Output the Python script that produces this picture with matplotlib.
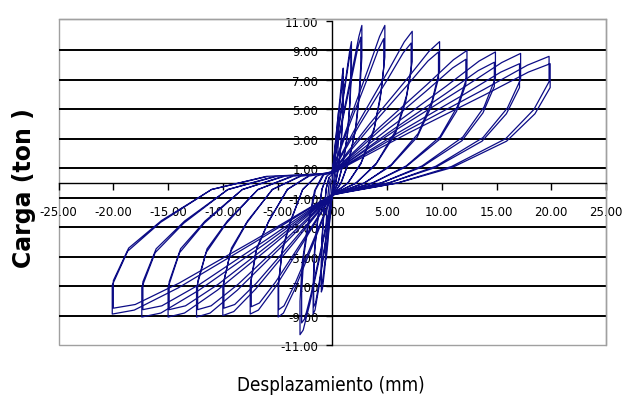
import matplotlib
matplotlib.use("Agg")
import matplotlib.pyplot as plt
from matplotlib import font_manager as fm
from matplotlib.patches import Rectangle

# ---------------- data ----------------
# Displacement (mm) / load (ton) traces, one pair per displacement level
disp_1 = [0, 0.105, 0.21, 0.27, 0.3, 0.3, 0.28, 0.24, 0.165, 0.09,
          0, -0.105, -0.21, -0.27, -0.3, -0.3, -0.28, -0.234, -0.165, -0.09]
load_1 = [0.21, 1.09, 1.92, 2.42, 2.6, 2.08, 1.51, 0.91, 0.34, 0,
          -0.23, -1.17, -2.08, -2.52, -2.6, -2.03, -1.35, -0.78, -0.13, 0.13]

disp_2 = [0, 0.21, 0.42, 0.54, 0.6, 0.6, 0.56, 0.48, 0.33, 0.18,
          0, -0.21, -0.42, -0.54, -0.6, -0.6, -0.56, -0.47, -0.33, -0.18]
load_2 = [0.4, 2.1, 3.7, 4.65, 5.0, 4.0, 2.9, 1.75, 0.65, 0,
          -0.47, -2.34, -4.16, -5.04, -5.2, -4.06, -2.7, -1.56, -0.26, 0.26]

disp_3 = [0, 0.35, 0.7, 0.9, 1.0, 1.0, 0.93, 0.8, 0.55, 0.3,
          0, -0.35, -0.7, -0.9, -1.0, -1.0, -0.93, -0.78, -0.55, -0.3,
          0, 0.35, 0.7, 0.9, 1.0, 1.0, 0.93, 0.8, 0.55, 0.3,
          0, -0.35, -0.7, -0.9, -1.0, -1.0, -0.93, -0.78, -0.55, -0.3]
load_3 = [0.62, 3.28, 5.77, 7.25, 7.8, 6.24, 4.52, 2.73, 1.01, 0,
          -0.67, -3.33, -5.92, -7.18, -7.4, -5.77, -3.85, -2.22, -0.37, 0.37,
          0.58, 3.02, 5.33, 6.7, 7.2, 5.76, 4.18, 2.52, 0.94, 0,
          -0.62, -3.11, -5.52, -6.69, -6.9, -5.38, -3.59, -2.07, -0.35, 0.35]

disp_4 = [0, 0.61, 1.23, 1.58, 1.75, 1.75, 1.63, 1.4, 0.96, 0.53,
          0, -0.61, -1.23, -1.58, -1.75, -1.75, -1.63, -1.37, -0.96, -0.53,
          0, 0.6, 1.19, 1.53, 1.7, 1.7, 1.58, 1.36, 0.94, 0.51,
          0, -0.6, -1.19, -1.53, -1.7, -1.7, -1.58, -1.33, -0.94, -0.51]
load_4 = [0.77, 4.03, 7.1, 8.93, 9.6, 7.68, 5.57, 3.36, 1.25, 0,
          -0.8, -4.0, -7.12, -8.63, -8.9, -6.94, -4.63, -2.67, -0.45, 0.45,
          0.72, 3.78, 6.66, 8.37, 9.0, 7.2, 5.22, 3.15, 1.17, 0,
          -0.76, -3.78, -6.72, -8.15, -8.4, -6.55, -4.37, -2.52, -0.42, 0.42]

disp_5 = [0, 0.95, 1.89, 2.43, 2.7, 2.7, 2.51, 2.16, 1.49, 0.81,
          0, -1.03, -2.07, -2.66, -2.95, -2.95, -2.74, -2.3, -1.62, -0.89,
          0, 0.91, 1.82, 2.34, 2.6, 2.6, 2.42, 2.08, 1.43, 0.78,
          0, -0.98, -1.96, -2.52, -2.8, -2.8, -2.6, -2.18, -1.54, -0.84]
load_5 = [0.86, 4.49, 7.92, 9.95, 10.7, 8.56, 6.21, 3.75, 1.39, 0,
          -0.93, -4.64, -8.24, -9.99, -10.3, -8.03, -5.36, -3.09, -0.52, 0.52,
          0.79, 4.16, 7.33, 9.21, 9.9, 7.92, 5.74, 3.47, 1.29, 0,
          -0.86, -4.28, -7.6, -9.22, -9.5, -7.41, -4.94, -2.85, -0.48, 0.48]

disp_6 = [0, 1.68, 3.36, 4.32, 4.8, 4.8, 4.46, 3.84, 2.64, 1.44,
          0, -1.73, -3.47, -4.46, -4.95, -4.95, -4.6, -3.86, -2.72, -1.49,
          0, 1.65, 3.29, 4.23, 4.7, 4.7, 4.37, 3.76, 2.59, 1.41,
          0, -1.72, -3.43, -4.41, -4.9, -4.9, -4.56, -3.82, -2.7, -1.47]
load_6 = [0.86, 4.49, 7.92, 9.95, 10.7, 8.56, 6.21, 3.75, 1.39, 0,
          -0.82, -4.1, -7.28, -8.83, -9.1, -7.1, -4.73, -2.73, -0.46, 0.46,
          0.78, 4.12, 7.25, 9.11, 9.8, 7.84, 5.68, 3.43, 1.27, 0,
          -0.77, -3.87, -6.88, -8.34, -8.6, -6.71, -4.47, -2.58, -0.43, 0.43]

disp_7 = [0, 2.56, 5.11, 6.57, 7.3, 7.3, 6.79, 5.84, 4.02, 2.19,
          0, -2.63, -5.25, -6.75, -7.5, -7.5, -6.98, -5.85, -4.13, -2.25,
          0, 2.52, 5.04, 6.48, 7.2, 7.2, 6.7, 5.76, 3.96, 2.16,
          0, -2.59, -5.18, -6.66, -7.4, -7.4, -6.88, -5.77, -4.07, -2.22]
load_7 = [0.82, 4.33, 7.62, 9.58, 10.3, 8.24, 5.97, 3.61, 1.34, 0,
          -0.8, -4.0, -7.12, -8.63, -8.9, -6.94, -4.63, -2.67, -0.45, 0.45,
          0.76, 3.99, 7.03, 8.84, 9.5, 7.6, 5.51, 3.33, 1.24, 0,
          -0.76, -3.78, -6.72, -8.15, -8.4, -6.55, -4.37, -2.52, -0.42, 0.42]

disp_8 = [0, 3.43, 6.86, 8.82, 9.8, 9.8, 9.11, 7.84, 5.39, 2.94,
          0, -3.5, -7.0, -9.0, -10.0, -10.0, -9.3, -7.8, -5.5, -3.0,
          0, 3.4, 6.79, 8.73, 9.7, 9.7, 9.02, 7.76, 5.34, 2.91,
          0, -3.47, -6.93, -8.91, -9.9, -9.9, -9.21, -7.72, -5.45, -2.97]
load_8 = [0.77, 4.03, 7.1, 8.93, 9.6, 7.68, 5.57, 3.36, 1.25, 0,
          -0.81, -4.05, -7.2, -8.73, -9.0, -7.02, -4.68, -2.7, -0.45, 0.45,
          0.71, 3.74, 6.59, 8.28, 8.9, 7.12, 5.16, 3.12, 1.16, 0,
          -0.77, -3.83, -6.8, -8.25, -8.5, -6.63, -4.42, -2.55, -0.43, 0.43]

disp_9 = [0, 4.31, 8.61, 11.07, 12.3, 12.3, 11.44, 9.84, 6.77, 3.69,
          0, -4.34, -8.68, -11.16, -12.4, -12.4, -11.53, -9.67, -6.82, -3.72,
          0, 4.27, 8.54, 10.98, 12.2, 12.2, 11.35, 9.76, 6.71, 3.66,
          0, -4.31, -8.61, -11.07, -12.3, -12.3, -11.44, -9.59, -6.77, -3.69]
load_9 = [0.72, 3.78, 6.66, 8.37, 9.0, 7.2, 5.22, 3.15, 1.17, 0,
          -0.82, -4.1, -7.28, -8.83, -9.1, -7.1, -4.73, -2.73, -0.46, 0.46,
          0.67, 3.53, 6.22, 7.81, 8.4, 6.72, 4.87, 2.94, 1.09, 0,
          -0.77, -3.87, -6.88, -8.34, -8.6, -6.71, -4.47, -2.58, -0.43, 0.43]

disp_10 = [0, 5.22, 10.43, 13.41, 14.9, 14.9, 13.86, 11.92, 8.2, 4.47,
           0, -5.25, -10.5, -13.5, -15.0, -15.0, -13.95, -11.7, -8.25, -4.5,
           0, 5.18, 10.36, 13.32, 14.8, 14.8, 13.76, 11.84, 8.14, 4.44,
           0, -5.22, -10.43, -13.41, -14.9, -14.9, -13.86, -11.62, -8.2, -4.47]
load_10 = [0.71, 3.74, 6.59, 8.28, 8.9, 7.12, 5.16, 3.12, 1.16, 0,
           -0.82, -4.1, -7.28, -8.83, -9.1, -7.1, -4.73, -2.73, -0.46, 0.46,
           0.66, 3.44, 6.07, 7.63, 8.2, 6.56, 4.76, 2.87, 1.07, 0,
           -0.77, -3.87, -6.88, -8.34, -8.6, -6.71, -4.47, -2.58, -0.43, 0.43]

disp_11 = [0, 6.02, 12.04, 15.48, 17.2, 17.2, 16.0, 13.76, 9.46, 5.16,
           0, -6.09, -12.18, -15.66, -17.4, -17.4, -16.18, -13.57, -9.57, -5.22,
           0, 5.99, 11.97, 15.39, 17.1, 17.1, 15.9, 13.68, 9.41, 5.13,
           0, -6.06, -12.11, -15.57, -17.3, -17.3, -16.09, -13.49, -9.52, -5.19]
load_11 = [0.7, 3.7, 6.51, 8.18, 8.8, 7.04, 5.1, 3.08, 1.14, 0,
           -0.82, -4.1, -7.28, -8.83, -9.1, -7.1, -4.73, -2.73, -0.46, 0.46,
           0.65, 3.4, 5.99, 7.53, 8.1, 6.48, 4.7, 2.84, 1.05, 0,
           -0.77, -3.87, -6.88, -8.34, -8.6, -6.71, -4.47, -2.58, -0.43, 0.43]

disp_12 = [0, 6.93, 13.86, 17.82, 19.8, 19.8, 18.41, 15.84, 10.89, 5.94,
           0, -7.04, -14.07, -18.09, -20.1, -20.1, -18.69, -15.68, -11.06, -6.03,
           0, 6.97, 13.93, 17.91, 19.9, 19.9, 18.51, 15.92, 10.95, 5.97,
           0, -7.0, -14.0, -18.0, -20.0, -20.0, -18.6, -15.6, -11.0, -6.0]
load_12 = [0.69, 3.61, 6.36, 8.0, 8.6, 6.88, 4.99, 3.01, 1.12, 0,
           -0.8, -4.0, -7.12, -8.63, -8.9, -6.94, -4.63, -2.67, -0.45, 0.45,
           0.65, 3.4, 5.99, 7.53, 8.1, 6.48, 4.7, 2.84, 1.05, 0,
           -0.77, -3.83, -6.8, -8.25, -8.5, -6.63, -4.42, -2.55, -0.43, 0.43]

x_ticks = [-25, -20, -15, -10, -5, 0, 5, 10, 15, 20, 25]
y_ticks = [-11, -9, -7, -5, -3, -1, 1, 3, 5, 7, 9, 11]
grid_levels = [-9, -7, -5, -3, -1, 1, 3, 5, 7, 9]
x_title = "Desplazamiento (mm)"
y_title = "Carga (ton )"

traces = [(disp_1, load_1), (disp_2, load_2), (disp_3, load_3), (disp_4, load_4),
          (disp_5, load_5), (disp_6, load_6), (disp_7, load_7), (disp_8, load_8),
          (disp_9, load_9), (disp_10, load_10), (disp_11, load_11), (disp_12, load_12)]

# ---------------- figure ----------------
W, H = 628, 406
fig = plt.figure(figsize=(W / 100, H / 100), dpi=100)
fig.patch.set_facecolor("white")

left, right, top, bottom = 58.6, 606.0, 19.5, 346.0
ax = fig.add_axes([left / W, 1 - bottom / H, (right - left) / W, (bottom - top) / H])
ax.set_xlim(-25, 25)
ax.set_ylim(-11, 11.17)

for g in grid_levels:
    ax.axhline(g, color="black", lw=1.4, zorder=1)

line_color = "#0c0c86"
for dx, ly in traces:
    ax.plot(dx, ly, color=line_color, lw=0.9, zorder=3)

# plot-area frame
for s in ["top", "right"]:
    ax.spines[s].set_color("#a0a0a0")
    ax.spines[s].set_linewidth(1.0)
ax.add_patch(Rectangle((0, 0), 1, 1, transform=ax.transAxes, fill=False,
                       edgecolor="#a0a0a0", lw=1.0, zorder=0.5, clip_on=False))

# axes crossing at zero
ax.spines["left"].set_position(("data", 0))
ax.spines["bottom"].set_position(("data", 0))
ax.spines["left"].set_bounds(-11, 11)
for s in ["left", "bottom"]:
    ax.spines[s].set_color("black")
    ax.spines[s].set_linewidth(1.0)

ax.set_xticks(x_ticks)
ax.set_xticklabels([f"{v:.2f}" for v in x_ticks])
ax.set_yticks(y_ticks)
ax.set_yticklabels([f"{v:.2f}" for v in y_ticks])
ax.tick_params(axis="x", direction="out", length=5, width=1, pad=11,
               labelsize=8.5, colors="black")
ax.tick_params(axis="y", direction="out", length=4, width=1, pad=6,
               labelsize=8.5, colors="black")

# titles
names = {f.name for f in fm.fontManager.ttflist}
if "Liberation Sans Narrow" in names:
    xfont = dict(family="Liberation Sans Narrow", fontsize=17.5)
else:
    xfont = dict(family="DejaVu Sans", fontsize=13.5, fontstretch="condensed")
fig.text(331 / W, 1 - 386 / H, x_title, ha="center", va="center", **xfont)
fig.text(24 / W, 1 - 188 / H, y_title, ha="center", va="center",
         rotation=90, fontsize=17, fontweight="bold", family="DejaVu Sans")

fig.savefig("out.png", dpi=100, facecolor="white")
